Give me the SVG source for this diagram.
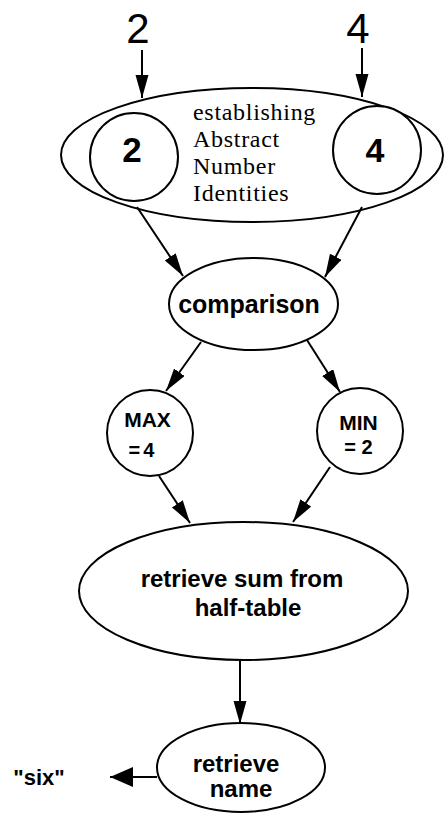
<svg xmlns="http://www.w3.org/2000/svg" width="444" height="813" viewBox="0 0 444 813">
<style>
.sh{fill:none;stroke:#000;stroke-width:2}
.ci{fill:#fff;stroke:#000;stroke-width:2}
.ln{fill:none;stroke:#000;stroke-width:2}
.b{font-family:"Liberation Sans",Arial,sans-serif;font-weight:bold;fill:#000;text-anchor:middle}
.s{font-family:"Liberation Serif","Times New Roman",serif;fill:#000;font-size:24px;letter-spacing:0.7px}
.n{font-family:"Liberation Sans",Arial,sans-serif;fill:#000;text-anchor:middle}
</style>
<defs>
<marker id="ah" markerUnits="userSpaceOnUse" markerWidth="24" markerHeight="14" refX="23" refY="6.5" orient="auto" viewBox="0 0 24 14">
<path d="M0,0 L23,6.5 L0,13 z" fill="#000"/>
</marker>
<marker id="ahb" markerUnits="userSpaceOnUse" markerWidth="24" markerHeight="22" refX="23" refY="10" orient="auto" viewBox="0 0 24 22">
<path d="M0,0 L23,10 L0,20 z" fill="#000"/>
</marker>
</defs>
<rect width="444" height="813" fill="#fff"/>
<g id="inputs">
<text class="n" x="138" y="43" font-size="42">2</text>
<text class="n" x="358" y="43" font-size="42">4</text>
</g>
<g id="abstract">
<ellipse class="sh" cx="252" cy="155" rx="191" ry="67"/>
<text class="s" x="193" y="120">establishing</text>
<text class="s" x="193" y="147">Abstract</text>
<text class="s" x="193" y="174">Number</text>
<text class="s" x="193" y="201">Identities</text>
</g>
<g id="id2">
<circle class="ci" cx="134" cy="157" r="44"/>
<text class="b" x="132" y="162" font-size="35">2</text>
</g>
<g id="id4">
<circle class="ci" cx="377" cy="150" r="44"/>
<text class="b" x="375" y="162" font-size="34">4</text>
</g>
<g id="comparison">
<ellipse class="sh" cx="253.5" cy="304" rx="84.5" ry="46"/>
<text class="b" x="249" y="313" font-size="25">comparison</text>
</g>
<g id="max">
<circle class="ci" cx="150" cy="433" r="43"/>
<text class="b" x="147.5" y="427" font-size="21">MAX</text>
<text class="b" x="143" y="457" font-size="20" letter-spacing="3">=4</text>
</g>
<g id="min">
<circle class="ci" cx="360" cy="431" r="43"/>
<text class="b" x="358.5" y="430" font-size="21">MIN</text>
<text class="b" x="358.5" y="454" font-size="20">= 2</text>
</g>
<g id="sum">
<ellipse class="sh" cx="243.5" cy="591" rx="164.5" ry="69"/>
<text class="b" x="242" y="587" font-size="24">retrieve sum from</text>
<text class="b" x="248" y="616" font-size="24">half-table</text>
</g>
<g id="name">
<ellipse class="sh" cx="241" cy="767.5" rx="84" ry="44.5"/>
<text class="b" x="236" y="772" font-size="24">retrieve</text>
<text class="b" x="241" y="797" font-size="24">name</text>
</g>
<g id="output">
<text class="b" x="39" y="785" font-size="22">"six"</text>
</g>
<g id="connectors">
<line class="ln" x1="142" y1="50" x2="142" y2="98" marker-end="url(#ah)"/>
<line class="ln" x1="362" y1="48" x2="362" y2="97" marker-end="url(#ah)"/>
<line class="ln" x1="137" y1="207" x2="183" y2="276" marker-end="url(#ah)"/>
<line class="ln" x1="362" y1="207" x2="325" y2="277" marker-end="url(#ah)"/>
<line class="ln" x1="201" y1="342" x2="166" y2="391" marker-end="url(#ah)"/>
<line class="ln" x1="307" y1="340" x2="340" y2="392" marker-end="url(#ah)"/>
<line class="ln" x1="159" y1="476" x2="190" y2="523" marker-end="url(#ah)"/>
<line class="ln" x1="330" y1="467" x2="293" y2="522" marker-end="url(#ah)"/>
<line class="ln" x1="240" y1="661" x2="240" y2="724" marker-end="url(#ah)"/>
<line class="ln" x1="157" y1="777" x2="110" y2="777" marker-end="url(#ahb)"/>
</g>
</svg>
